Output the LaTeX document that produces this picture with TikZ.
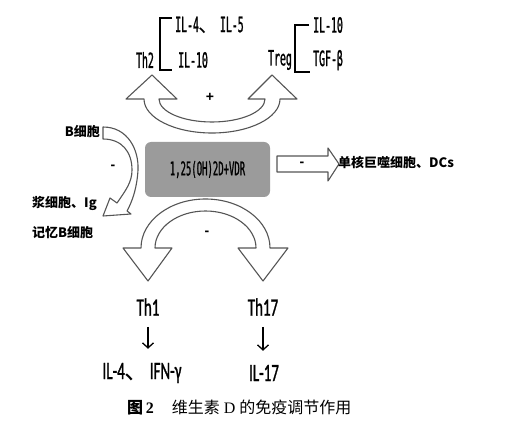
\documentclass[tikz,border=0pt]{standalone}
\usepackage{fontspec}
\usetikzlibrary{arrows.meta}
\setmainfont{Liberation Sans}
\newfontfamily\cjk{Noto Sans CJK SC}
\newfontfamily\serif{Liberation Serif}
\newfontfamily\gothic[FakeStretch=0.47,FakeBold=1]{DejaVu Sans Mono}
\newfontfamily\calib[FakeStretch=0.6,FakeBold=1]{Carlito}
\definecolor{boxgray}{RGB}{155,155,155}
\definecolor{edge}{RGB}{85,85,85}
\tikzstyle{hollow}=[draw=edge,fill=white,line width=1.1pt,line join=round]
\tikzstyle{toplabel}=[inner sep=1pt,font=\gothic\fontsize{21}{21}\selectfont]
\tikzstyle{celllabel}=[inner sep=1pt,font=\calib\fontsize{25}{25}\selectfont]
\tikzstyle{zhlabel}=[inner sep=1pt,font=\cjk\bfseries\fontsize{13}{13}\selectfont]
\tikzstyle{sign}=[inner sep=0pt,font=\bfseries\fontsize{14}{14}\selectfont]
\tikzstyle{down}=[-{Straight Barb[length=5pt,width=11pt]},line width=1.3pt]
\tikzstyle{bracket}=[line width=1.2pt]

\begin{document}
\begin{tikzpicture}[x=1pt,y=1pt]
    \useasboundingbox (0,0) rectangle (521,-427);
    \node[fill=boxgray,rounded corners=6pt,minimum width=125pt,minimum height=55pt,inner sep=0pt,font=\gothic\fontsize{19}{19}\selectfont] (vdr) at (207.5,-169.5) {1,25(OH)2D+VDR};
    % block arrows
    \draw[hollow] (152,-75) -- (177,-99) -- (159,-99) arc[start angle=180,end angle=360,x radius=53,y radius=23] -- (248,-99) -- (272,-75) -- (297,-99) -- (280,-99) arc[start angle=0,end angle=-180,x radius=68,y radius=34] -- (126,-99) -- cycle;
    \draw[hollow] (148,-281) -- (123,-248) -- (141,-248) arc[start angle=180,end angle=0,x radius=64.5,y radius=49] -- (288,-248) -- (263,-281) -- (238,-248) -- (256,-248) arc[start angle=0,end angle=180,x radius=50.5,y radius=37] -- (172,-248) -- cycle;
    \draw[hollow] (277,-156) -- (328,-156) -- (328,-148) -- (339,-164) -- (328,-181) -- (328,-172) -- (277,-172) -- cycle;
    \draw[hollow] (103,-127) .. controls (128,-127) and (139,-150) .. (138,-170) .. controls (137,-187) and (133,-200) .. (127,-211) -- (131,-214) -- (103,-216) -- (110,-198) -- (117,-203) .. controls (126,-190) and (132,-182) .. (132,-170) .. controls (132,-152) and (122,-139) .. (103,-139) -- cycle;
    % Th2 / Treg
    \node[toplabel] (th2) at (145,-60) {Th2};
    \node[toplabel,anchor=west] (il45) at (174,-25) {IL-4{\cjk 、}IL-5};
    \node[toplabel,anchor=west] (il10a) at (177,-60) {IL-10};
    \node[toplabel] (treg) at (280,-60) {Treg};
    \node[toplabel,anchor=west] (il10b) at (312,-25) {IL-10};
    \node[toplabel,anchor=west] (tgf) at (312,-60) {TGF-β};
    \draw[bracket] (172,-18) -| (160,-70) -- (172,-70);
    \draw[bracket] (309,-25) -| (295,-72) -- (310,-72);
    % signs
    \node[sign] (plus) at (210,-97) {+};
    \node[sign] (minusb) at (113,-167) {-};
    \node[sign] (minusm) at (302,-164) {-};
    \node[sign] (minusth) at (207,-233) {-};
    % Th1 / Th17
    \node[celllabel] (th1) at (148,-307) {Th1};
    \node[celllabel] (th17) at (263,-307) {Th17};
    \node[celllabel] (ifn) at (142,-373) {IL-4{\cjk 、}IFN-γ};
    \node[celllabel] (il17) at (264,-373) {IL-17};
    \draw[down,shorten <=10pt,shorten >=13pt] (th1.south) -- (th1.south |- ifn.north);
    \draw[down,shorten <=10pt,shorten >=13pt] (th17.south) -- (th17.south |- il17.north);
    % B cells, monocytes
    \node[zhlabel,anchor=east] (bcell) at (101,-132) {B细胞};
    \node[zhlabel,anchor=west] (plasma) at (31,-203) {浆细胞、Ig};
    \node[zhlabel,anchor=west] (memory) at (31,-233) {记忆B细胞};
    \node[zhlabel,anchor=west] (mono) at (337,-163) {单核巨噬细胞、DCs};
    \node[anchor=west,inner sep=0pt,font=\cjk\fontsize{16}{16}\selectfont] (caption) at (127,-407) {{\bfseries 图}{\serif\bfseries\,2}\hspace{18pt}维生素{\serif\ D }的免疫调节作用};
\end{tikzpicture}
\end{document}
